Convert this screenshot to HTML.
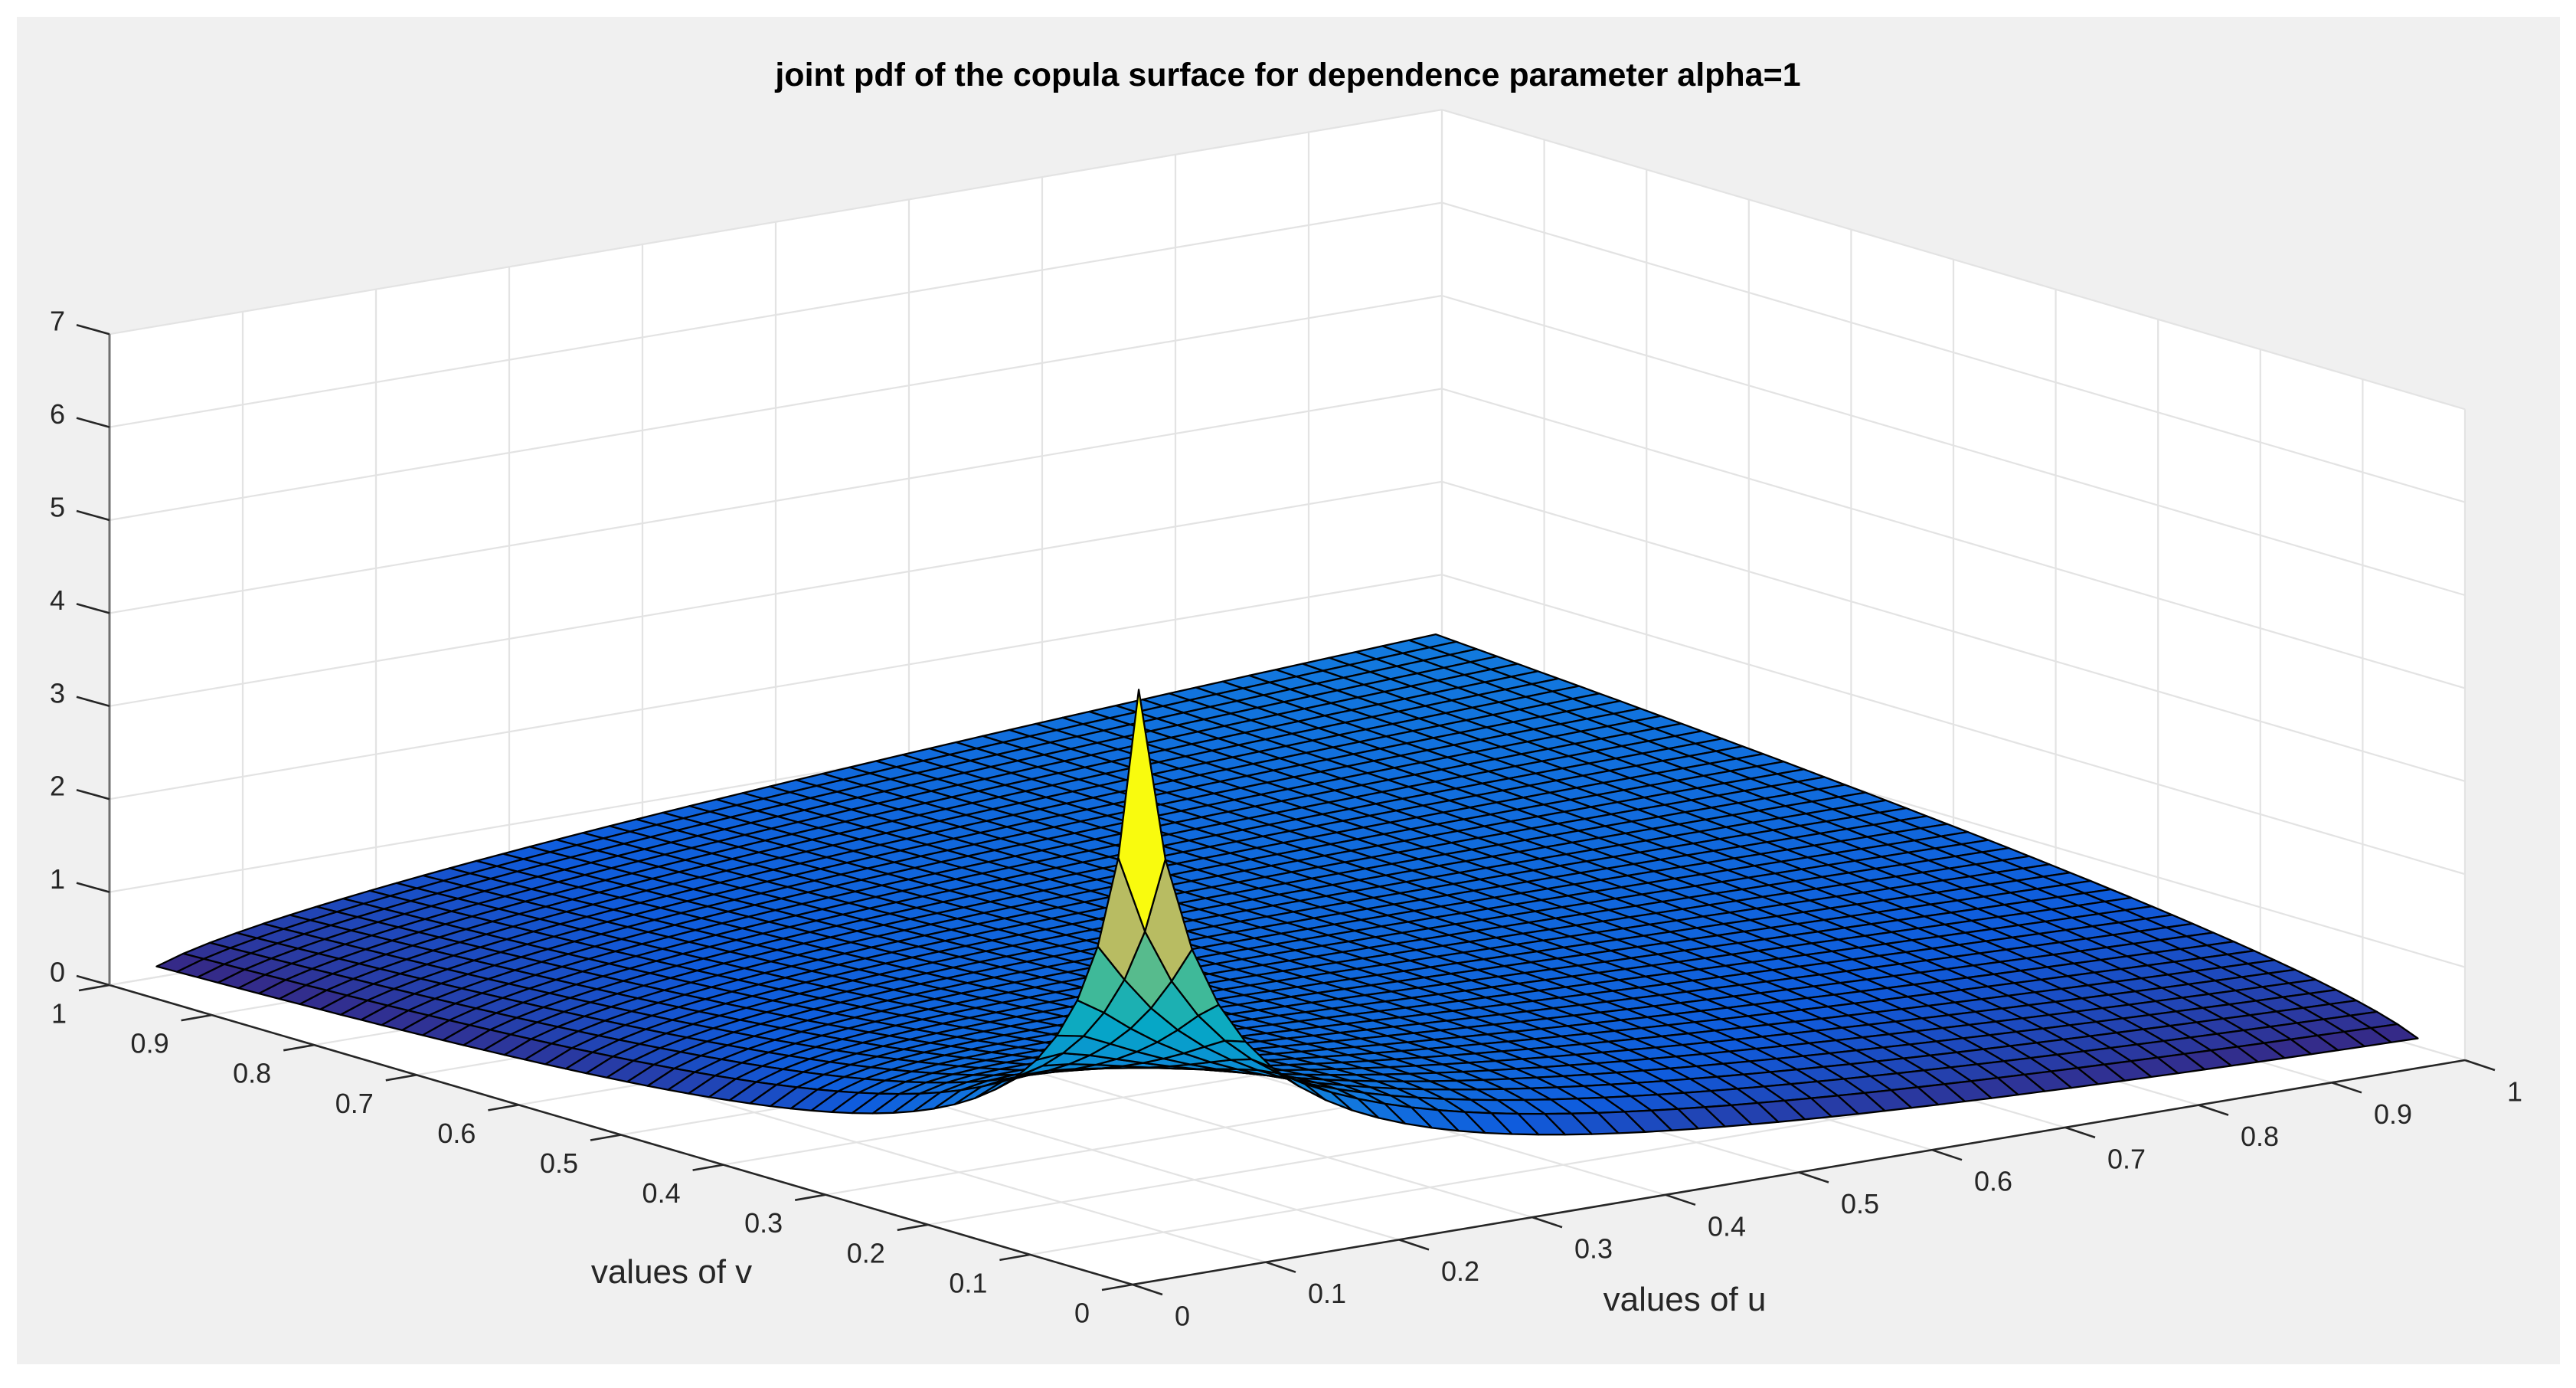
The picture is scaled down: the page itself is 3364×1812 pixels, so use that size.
<!DOCTYPE html>
<html><head><meta charset="utf-8"><title>copula pdf surface</title>
<style>
html,body{margin:0;padding:0;background:#fff;}
svg{display:block;font-family:"Liberation Sans",Arial,sans-serif;}
</style></head>
<body>
<svg id="chart" width="3364" height="1812" viewBox="0 0 3364 1812" xmlns="http://www.w3.org/2000/svg">
<rect x="22" y="22" width="3321" height="1759" fill="#f0f0f0"/>
<g id="axesBg"></g>
<g id="grid"></g>
<g id="axes"></g>
<g id="surface"></g>
<g id="labels"></g>
<text x="1682" y="112" font-size="43" font-weight="bold" text-anchor="middle" fill="#000">joint pdf of the copula surface for dependence parameter alpha=1</text>
<text x="2200" y="1711" font-size="44" text-anchor="middle" fill="#262626">values of u</text>
<text x="877" y="1675" font-size="44" text-anchor="middle" fill="#262626">values of v</text>
</svg>
<script>
// ---- data ----
const uGrid = [0.02,0.04,0.06,0.08,0.10,0.12,0.14,0.16,0.18,0.20,0.22,0.24,0.26,0.28,0.30,0.32,0.34,0.36,0.38,0.40,0.42,0.44,0.46,0.48,0.50,0.52,0.54,0.56,0.58,0.60,0.62,0.64,0.66,0.68,0.70,0.72,0.74,0.76,0.78,0.80,0.82,0.84,0.86,0.88,0.90,0.92,0.94,0.96,0.98];
const vGrid = [0.02,0.04,0.06,0.08,0.10,0.12,0.14,0.16,0.18,0.20,0.22,0.24,0.26,0.28,0.30,0.32,0.34,0.36,0.38,0.40,0.42,0.44,0.46,0.48,0.50,0.52,0.54,0.56,0.58,0.60,0.62,0.64,0.66,0.68,0.70,0.72,0.74,0.76,0.78,0.80,0.82,0.84,0.86,0.88,0.90,0.92,0.94,0.96,0.98];
const copulaTheta = [0.5];
const uTicks = [0,0.1,0.2,0.3,0.4,0.5,0.6,0.7,0.8,0.9,1];
const uTickLabels = ["0","0.1","0.2","0.3","0.4","0.5","0.6","0.7","0.8","0.9","1"];
const vTicks = [0,0.1,0.2,0.3,0.4,0.5,0.6,0.7,0.8,0.9,1];
const vTickLabels = ["0","0.1","0.2","0.3","0.4","0.5","0.6","0.7","0.8","0.9","1"];
const zTicks = [0,1,2,3,4,5,6,7];
const zTickLabels = ["0","1","2","3","4","5","6","7"];

// ---- projection (orthographic) ----
const O = [1479,1677], UV = [1740,-293], VV = [-1336,-391], ZS = 121.4;
function P(u,v,z){ return [O[0]+UV[0]*u+VV[0]*v, O[1]+UV[1]*u+VV[1]*v-ZS*z]; }
function pt(p){ return p[0].toFixed(1)+","+p[1].toFixed(1); }
const NS="http://www.w3.org/2000/svg";
function mk(tag, attrs, parent){ const e=document.createElementNS(NS,tag); for(const k in attrs) e.setAttribute(k,attrs[k]); parent.appendChild(e); return e; }

const bg=document.getElementById('axesBg');
const hex=mk('polygon',{points:[P(0,1,7),P(1,1,7),P(1,0,7),P(1,0,0),P(0,0,0),P(0,1,0)].map(pt).join(' '),fill:'#ffffff'},bg);



const g=document.getElementById('grid');
const gs={stroke:'#e3e3e3','stroke-width':2.2,fill:'none'};
function line(a,b,st,parent,name){ const l=mk('line',Object.assign({x1:a[0],y1:a[1],x2:b[0],y2:b[1]},st),parent);   return l; }
uTicks.forEach(u=>{
  line(P(u,0,0),P(u,1,0),gs,g,'floor-gridline-u');
  line(P(u,1,0),P(u,1,7),gs,g,'back-wall-gridline-u');
});
vTicks.forEach(v=>{
  line(P(0,v,0),P(1,v,0),gs,g,'floor-gridline-v');
  line(P(1,v,0),P(1,v,7),gs,g,'side-wall-gridline-v');
});
zTicks.forEach(z=>{
  line(P(0,1,z),P(1,1,z),gs,g,'back-wall-gridline-z');
  line(P(1,1,z),P(1,0,z),gs,g,'side-wall-gridline-z');
});

const ax=document.getElementById('axes');
const as={stroke:'#262626','stroke-width':2.6};
line(P(0,0,0),P(1,0,0),as,ax,'u-axis-line');
line(P(0,0,0),P(0,1,0),as,ax,'v-axis-line');
line(P(0,1,0),P(0,1,7),{stroke:'#707070','stroke-width':3},ax,'z-axis-line');
const lab=document.getElementById('labels');
function txt(x,y,s,anchor,name){ const t=mk('text',{x:x,y:y,'font-size':36,'text-anchor':anchor,'dominant-baseline':'middle',fill:'#262626'},lab); t.textContent=s;   return t; }
uTicks.forEach((u,i)=>{
  const p=P(u,0,0);
  line(p,[p[0]+39,p[1]+13],as,ax,'u-axis-tick');
  txt(p[0]+55,p[1]+44,uTickLabels[i],'start','u-tick-label');
});
vTicks.forEach((v,i)=>{
  const p=P(0,v,0);
  line(p,[p[0]-40,p[1]+7],as,ax,'v-axis-tick');
  txt(p[0]-56,p[1]+40,vTickLabels[i],'end','v-tick-label');
});
zTicks.forEach((z,i)=>{
  const p=P(0,1,z);
  line(p,[p[0]-43,p[1]-12],as,ax,'z-axis-tick');
  txt(p[0]-58,p[1]-14,zTickLabels[i],'end','z-tick-label');
});

const th=copulaTheta[0];
function dens(u,v){ return (1+th)*Math.pow(u*v,-th-1)*Math.pow(Math.pow(u,-th)+Math.pow(v,-th)-1,-1/th-2); }
const Z=uGrid.map(u=>vGrid.map(v=>dens(u,v)));
let zmin=Infinity,zmax=-Infinity;
Z.forEach(r=>r.forEach(z=>{ if(z<zmin)zmin=z; if(z>zmax)zmax=z; }));
const parula=[[0,[53,42,135]],[0.1,[15,92,221]],[0.2,[18,122,222]],[0.3,[10,146,211]],[0.4,[6,167,198]],[0.5,[44,183,162]],[0.6,[125,191,123]],[0.7,[190,188,96]],[0.8,[236,186,72]],[0.9,[253,212,44]],[1,[249,251,14]]];
function cmap(t){ t=Math.max(0,Math.min(1,t)); for(let k=1;k<parula.length;k++){ if(t<=parula[k][0]){ const a=parula[k-1],b=parula[k]; const f=(t-a[0])/(b[0]-a[0]); const c=a[1].map((x,j)=>Math.round(x+(b[1][j]-x)*f)); return 'rgb('+c.join(',')+')'; } } return 'rgb(249,251,14)'; }
const cells=[];
for(let i=0;i<uGrid.length-1;i++) for(let j=0;j<vGrid.length-1;j++){
  const uc=(uGrid[i]+uGrid[i+1])/2, vc=(vGrid[j]+vGrid[j+1])/2;
  cells.push({i:i,j:j,d:P(uc,vc,0)[1]});
}
cells.sort((a,b)=>a.d-b.d);
const sf=document.getElementById('surface');
cells.forEach(c=>{
  const i=c.i,j=c.j;
  const pts=[P(uGrid[i],vGrid[j],Z[i][j]),P(uGrid[i+1],vGrid[j],Z[i+1][j]),P(uGrid[i+1],vGrid[j+1],Z[i+1][j+1]),P(uGrid[i],vGrid[j+1],Z[i][j+1])];
  const poly=document.createElementNS(NS,'polygon');
  poly.setAttribute('points',pts.map(pt).join(' '));
  poly.setAttribute('fill',cmap((Z[i][j]-zmin)/(zmax-zmin)));
  poly.setAttribute('stroke','#000');
  poly.setAttribute('stroke-width','2.3');
  poly.setAttribute('stroke-linejoin','round');
  
  
  sf.appendChild(poly);
});
</script>
</body></html>
